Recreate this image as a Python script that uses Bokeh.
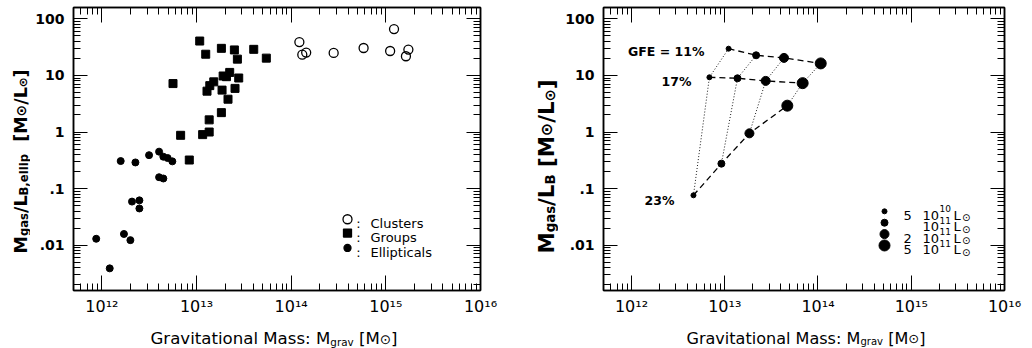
import math
import glob
import os
import subprocess

from bokeh.plotting import figure
from bokeh.layouts import row, column
from bokeh.models import Range1d, LogAxis, LogTicker, CustomJSTickFormatter, Label
from bokeh.embed import file_html
from bokeh.resources import INLINE

# ------------------------------------------------------------------ data
# Left panel: observed gas-to-light ratios
cluster_mgrav = [1.22e14, 1.31e14, 1.44e14, 2.81e14, 5.82e14, 1.22e15, 1.11e15, 1.73e15, 1.63e15]
cluster_ratio = [38.9, 23.3, 25.3, 25.0, 30.5, 66.0, 27.0, 28.6, 21.8]

group_mgrav = [1.08e13, 1.25e13, 1.83e13, 2.51e13, 2.70e13, 4.02e13, 5.46e13, 5.64e12,
               1.91e13, 2.07e13, 2.24e13, 2.79e13, 1.29e13, 1.38e13, 1.52e13, 1.86e13,
               2.55e13, 2.15e13, 1.83e13, 1.36e13, 1.16e13, 1.36e13, 6.79e12, 8.38e12]
group_ratio = [40.5, 23.7, 30.1, 28.2, 19.4, 28.9, 20.2, 7.18,
               9.77, 9.5, 11.3, 9.0, 5.27, 6.6, 7.7, 5.5,
               5.9, 3.8, 2.2, 1.64, 0.90, 1.0, 0.875, 0.32]

elliptical_mgrav = [1.58e12, 2.26e12, 3.15e12, 4.02e12, 4.46e12, 4.95e12, 5.55e12, 4.02e12,
                    4.46e12, 2.08e12, 2.49e12, 2.49e12, 8.71e11, 1.71e12, 2.00e12, 1.21e12]
elliptical_ratio = [0.307, 0.29, 0.39, 0.45, 0.366, 0.347, 0.303, 0.159,
                    0.151, 0.059, 0.062, 0.0446, 0.013, 0.0158, 0.0123, 0.0039]

legend_names = ["Clusters", "Groups", "Ellipticals"]

# Right panel: model grid (rows = galaxy formation efficiency, columns = L_B)
gfe_percent = [11, 17, 23]
lum_B = [5e10, 1e11, 2e11, 5e11]
model_mgrav = {
    11: [1.10e13, 2.17e13, 4.32e13, 1.07e14],
    17: [6.85e12, 1.37e13, 2.75e13, 6.85e13],
    23: [4.62e12, 9.21e12, 1.84e13, 4.69e13],
}
model_ratio = {
    11: [29.7, 22.7, 20.4, 16.3],
    17: [9.26, 8.9, 8.0, 7.3],
    23: [0.0762, 0.276, 0.948, 2.92],
}

# ticks
xtick_values = [1e12, 1e13, 1e14, 1e15, 1e16]
xtick_labels = ["10\u00b9\u00b2", "10\u00b9\u00b3", "10\u00b9\u2074", "10\u00b9\u2075", "10\u00b9\u2076"]
ytick_values = [0.01, 0.1, 1, 10, 100]
ytick_labels = [".01", ".1", "1", "10", "100"]

# ------------------------------------------------------------------ layout / style
XLOG0, XLOG1 = 11.7, 16.0
YLOG0, YLOG1 = -2.80, 2.20
FONT = "DejaVu Sans"
TOTAL_H = 348
PLOT_H = 318          # frame top 7, frame height 286, bottom border 25
XLAB_H = TOTAL_H - PLOT_H
FH = 286
lum_marker_size = [5, 7, 9, 11]

_FONTS = {}


def _font_path(bold):
    names = (["DejaVuSans-Bold.ttf", "DejaVuSans_Bold.ttf", "dejavu-sans-bold.ttf"] if bold
             else ["DejaVuSans.ttf", "dejavu-sans.ttf"])
    roots = ["/usr/share/fonts", "/usr/local/share/fonts", os.path.expanduser("~/.fonts"),
             os.path.expanduser("~/.local/share/fonts"), "/usr/lib/fonts", "/opt"]
    for r in roots:
        for n in names:
            hits = glob.glob(os.path.join(r, "**", n), recursive=True)
            if hits:
                return hits[0]
    try:
        out = subprocess.run(["fc-match", "-f", "%{file}", "DejaVu Sans:bold" if bold else "DejaVu Sans"],
                             capture_output=True, text=True, timeout=5).stdout.strip()
        if out and os.path.exists(out) and (("Bold" in out) == bold):
            return out
    except Exception:
        pass
    return None


def _load(bold):
    if bold not in _FONTS:
        try:
            from PIL import ImageFont
            path = _font_path(bold)
            _FONTS[bold] = ImageFont.truetype(path, 100) if path else None
        except Exception:
            _FONTS[bold] = None
    return _FONTS[bold]


def text_w(text, size, bold):
    f = _load(bold)
    if f is not None:
        return f.getlength(text) * size / 100.0
    if bold:
        fr = _load(False)
        if fr is not None:
            return fr.getlength(text) * size / 100.0 * 1.09
    return len(text) * size * (0.62 if bold else 0.57)


def rich(p, pieces, x, y, target=None, vertical=False, align="center"):
    """pieces: (text, size, baseline shift, bold)"""
    widths = [text_w(t, s, b) for t, s, dy, b in pieces]
    k = target / sum(widths) if target else 1.0
    total = sum(widths) * k
    pos = y if vertical else x
    if align == "center":
        pos -= total / 2
    for (t, s, dy, b), w in zip(pieces, widths):
        stripped = t.lstrip(" ")
        lead = text_w(t[: len(t) - len(stripped)], s, b) * k
        common = dict(text=stripped, text_font=FONT, text_font_size=f"{s * k:.2f}px",
                      text_font_style="bold" if b else "normal", text_color="black",
                      text_align="left", text_baseline="alphabetic",
                      x_units="screen", y_units="screen")
        if vertical:
            p.add_layout(Label(x=x - dy * k, y=pos + lead, angle=math.pi / 2, **common))
        else:
            p.add_layout(Label(x=pos + lead, y=y + dy * k, **common))
        pos += w * k


def label(p, text, x, y, size, bold=False, align="left"):
    p.add_layout(Label(x=x, y=y, x_units="screen", y_units="screen", text=text,
                       text_font=FONT, text_font_size=f"{size}px",
                       text_font_style="bold" if bold else "normal",
                       text_color="black", text_align=align, text_baseline="alphabetic"))


def rel_to_data(rx, ry, fw, fh):
    return (10 ** (XLOG0 + rx / fw * (XLOG1 - XLOG0)),
            10 ** (YLOG0 + ry / fh * (YLOG1 - YLOG0)))


def text_fig(width, height):
    f = figure(width=width, height=height, x_range=Range1d(0, 1), y_range=Range1d(0, 1),
               x_axis_location=None, y_axis_location=None, output_backend="svg",
               toolbar_location=None, min_border=0)
    f.grid.visible = False
    f.outline_line_color = None
    f.background_fill_color = "white"
    f.border_fill_color = "white"
    return f


def make_fig(width, bl, br):
    p = figure(width=width, height=PLOT_H, x_axis_type="log", y_axis_type="log",
               x_range=Range1d(10 ** XLOG0, 10 ** XLOG1), y_range=Range1d(10 ** YLOG0, 10 ** YLOG1),
               output_backend="svg", toolbar_location=None,
               min_border_left=bl, min_border_right=br, min_border_top=7,
               min_border_bottom=PLOT_H - 7 - FH)
    p.background_fill_color = "white"
    p.border_fill_color = "white"
    p.outline_line_color = "black"
    p.outline_line_width = 1.5
    p.xgrid.visible = False
    p.ygrid.visible = False

    xexps = [round(math.log10(v)) for v in xtick_values]
    yexps = [round(math.log10(v)) for v in ytick_values]
    code = "const e = Math.round(Math.log10(tick)); const i = exps.indexOf(e); return i >= 0 ? labels[i] : '';"
    xfmt = CustomJSTickFormatter(args=dict(labels=xtick_labels, exps=xexps), code=code)
    yfmt = CustomJSTickFormatter(args=dict(labels=ytick_labels, exps=yexps), code=code)
    blank = CustomJSTickFormatter(code="return '';")

    def style(ax, major, minor):
        ax.major_tick_in = major
        ax.major_tick_out = 0
        ax.minor_tick_in = minor
        ax.minor_tick_out = 0
        ax.major_tick_line_width = 1
        ax.minor_tick_line_width = 1
        ax.major_tick_line_color = "black"
        ax.minor_tick_line_color = "black"
        ax.axis_line_width = 1.5
        ax.axis_line_color = "black"

    xa = p.xaxis[0]
    xa.ticker = LogTicker(num_minor_ticks=10)
    xa.formatter = xfmt
    xa.major_label_text_font = FONT
    xa.major_label_text_font_size = "16px"
    xa.major_label_text_color = "black"
    xa.major_label_standoff = 6
    style(xa, 15, 7)

    ya = p.yaxis[0]
    ya.ticker = LogTicker(num_minor_ticks=10)
    ya.formatter = yfmt
    ya.major_label_text_font = FONT
    ya.major_label_text_font_style = "bold"
    ya.major_label_text_font_size = "14px"
    ya.major_label_text_color = "black"
    ya.major_label_standoff = 9
    style(ya, 14, 7)

    top = LogAxis(ticker=LogTicker(num_minor_ticks=10), formatter=blank,
                  major_label_text_font_size="0px", major_label_standoff=0)
    style(top, 15, 7)
    p.add_layout(top, "above")
    right = LogAxis(ticker=LogTicker(num_minor_ticks=10), formatter=blank,
                    major_label_text_font_size="0px", major_label_standoff=0)
    style(right, 14, 7)
    p.add_layout(right, "right")
    return p


# ------------------------------------------------------------------ left panel
YL1_W = 30
W1, BL1, BR1 = 487, 43, 37
FW1 = W1 - BL1 - BR1
FRAME1_LEFT = YL1_W + BL1          # 73 on the page
p1 = make_fig(W1, BL1, BR1)

p1.scatter(elliptical_mgrav, elliptical_ratio, marker="circle", size=7,
           fill_color="black", line_color="black")
p1.scatter(group_mgrav, group_ratio, marker="square", size=8,
           fill_color="black", line_color="black")
p1.scatter(cluster_mgrav, cluster_ratio, marker="circle", size=9,
           fill_color=None, line_color="black", line_width=1.3)

# legend
leg_rows = [72, 58, 43]
leg_markers = [("circle", 9, None), ("square", 8, "black"), ("circle", 7, "black")]
for name, ry, (mk, sz, fc) in zip(legend_names, leg_rows, leg_markers):
    lx, ly = rel_to_data(274, ry, FW1, FH)
    p1.scatter([lx], [ly], marker=mk, size=sz, fill_color=fc, line_color="black", line_width=1.3)
    label(p1, ":", 285, ry - 4.5, 13, align="center")
    label(p1, name, 297, ry - 4.5, 13)

ylab1 = text_fig(YL1_W, TOTAL_H)
rich(ylab1, [("M", 15, 0, True), ("gas", 10, -3, True), ("/L", 15, 0, True),
             ("B,ellip", 10, -3, True), ("  [M", 15, 0, True), ("\u2299", 12, 0, True),
             ("/L", 15, 0, True), ("\u2299", 10, -2, True), ("]", 15, 0, True)],
     20, 95, target=184, vertical=True, align="left")

# the caption figure's frame is aligned with the plot frame above it
xlab1 = text_fig(W1, XLAB_H)
rich(xlab1, [("Gravitational Mass: M", 16, 0, False), ("grav", 10, -3, False),
             (" [M", 16, 0, False), ("\u2299", 13, 0, False), ("]", 16, 0, False)],
     273.5 - FRAME1_LEFT, 10, target=247)

# ------------------------------------------------------------------ right panel
YL2_W = 41
X2 = YL1_W + W1          # left edge of right panel on the page
W2, BL2, BR2 = 466, 45, 20
FW2 = W2 - BL2 - BR2
FRAME2_LEFT = X2 + YL2_W + BL2     # 603 on the page
p2 = make_fig(W2, BL2, BR2)

for i in range(len(lum_B)):
    p2.line([model_mgrav[g][i] for g in gfe_percent], [model_ratio[g][i] for g in gfe_percent],
            line_color="black", line_width=0.9, line_dash="1 2")
for g in gfe_percent:
    p2.line(model_mgrav[g], model_ratio[g], line_color="black", line_width=1.3, line_dash="6 4")
for g in gfe_percent:
    p2.scatter(model_mgrav[g], model_ratio[g], marker="circle", size=lum_marker_size,
               fill_color="black", line_color="black")

gfe_texts = ["GFE = %d%%" % gfe_percent[0]] + ["%d%%" % g for g in gfe_percent[1:]]
gfe_pos = [(101, 239.5), (88, 209.5), (71, 90.5)]
for t, (gx, gy) in zip(gfe_texts, gfe_pos):
    label(p2, t, gx, gy, 12.5, bold=True, align="right")

# size legend
lrows = [80, 68.5, 57, 45.5]
for L, ry, sz in zip(lum_B, lrows, lum_marker_size):
    e = int(math.floor(math.log10(L) + 1e-9))
    m = int(round(L / 10 ** e))
    lx, ly = rel_to_data(281, ry, FW2, FH)
    p2.scatter([lx], [ly], marker="circle", size=sz, fill_color="black", line_color="black")
    if m != 1:
        label(p2, str(m), 300, ry - 4.5, 13)
    label(p2, "10", 319, ry - 4.5, 13)
    label(p2, str(e), 336, ry + 2, 9)
    label(p2, "L", 350, ry - 4.5, 13)
    label(p2, "\u2299", 358.5, ry - 7, 10)

ylab2 = text_fig(YL2_W, TOTAL_H)
rich(ylab2, [("M", 16, 0, True), ("gas", 10, -3, True), ("/L", 16, 0, True),
             ("B", 10, -3, True), (" [M", 16, 0, True), ("\u2299", 12, 0, True),
             ("/L", 16, 0, True), ("\u2299", 11, -2, True), ("]", 16, 0, True)],
     546 - X2, 95, target=174, vertical=True, align="left")

xlab2 = text_fig(W2, XLAB_H)
rich(xlab2, [("Gravitational Mass: M", 16, 0, False), ("grav", 10, -3, False),
             (" [M", 16, 0, False), ("\u2299", 13, 0, False), ("]", 16, 0, False)],
     805.5 - FRAME2_LEFT, 10, target=239)

layout = row(ylab1, column(p1, xlab1), ylab2, column(p2, xlab2))
with open("out.html", "w") as fh:
    fh.write(file_html(layout, INLINE))
